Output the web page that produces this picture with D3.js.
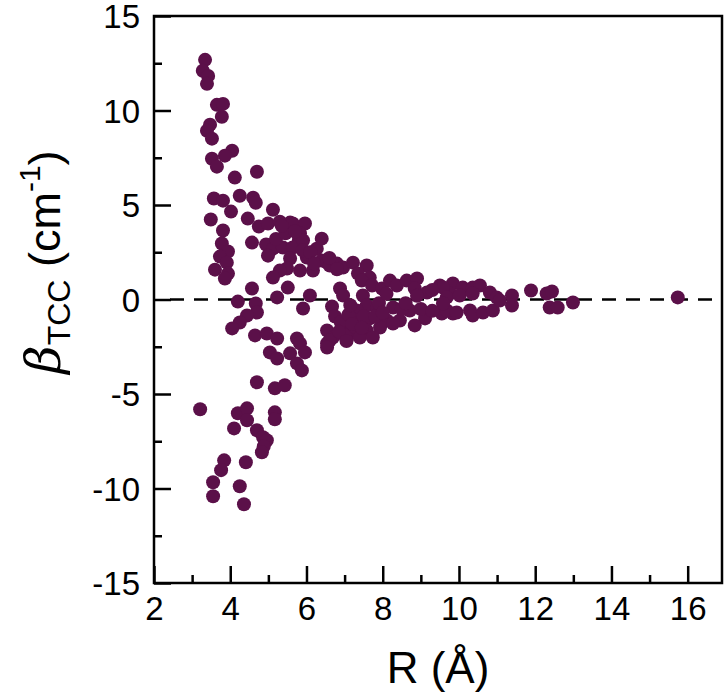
<!DOCTYPE html>
<html>
<head>
<meta charset="utf-8">
<script src="https://cdn.jsdelivr.net/npm/d3@7"></script>
<style>
  body { margin: 0; background: #fff; }
  text { font-family: "Liberation Sans", Arial, sans-serif; }
</style>
</head>
<body>
<svg id="chart"></svg>
<script>
// R (Å) values and beta_TCC (cm^-1) values
var rValues = [
  3.34, 3.28, 3.42, 3.39, 3.65, 3.81, 3.78, 3.47, 3.39, 3.52, 4.05, 3.86, 3.52, 3.65, 4.12, 4.70,
  3.57, 3.81, 4.02, 4.25, 4.60, 4.67, 5.12, 3.49, 3.81, 4.46, 4.75, 4.99, 5.30, 5.57, 5.64, 5.96,
  5.83, 5.80,
  3.78, 3.94, 3.73, 3.91, 3.60, 3.94, 3.86, 4.57, 4.94, 5.12, 4.99, 5.38, 5.64, 5.57, 5.49, 5.30,
  5.12, 5.83, 6.17, 5.91, 6.27, 6.40, 6.01, 6.40, 6.54, 6.61, 6.80, 6.96, 7.22, 7.58,
  7.35, 7.66, 7.45, 7.72, 7.98, 8.19, 8.37, 8.63, 8.90, 8.84, 9.16, 9.50, 9.84, 9.76, 6.88, 6.96,
  7.48, 4.57, 5.51, 6.09, 4.20, 4.67, 5.23, 5.91, 6.67, 7.58, 7.32, 7.85, 8.27, 8.71, 9.11, 9.55,
  9.84, 7.32, 7.66, 8.11, 8.45, 8.84, 6.54, 6.96, 7.27, 7.58, 7.93, 8.27, 6.69, 7.06, 7.40, 7.74,
  6.54, 6.61, 6.54,
  4.70, 4.44, 4.25, 4.05, 4.65, 4.96, 5.23, 5.04, 5.23, 5.57, 5.75, 5.83, 5.96, 5.75, 5.88, 4.70,
  5.17, 5.43,
  3.21, 4.20, 4.44, 4.44, 5.17, 5.17, 4.10, 4.70, 4.86, 4.96, 4.88, 4.83, 4.41, 3.84, 3.76, 3.55,
  3.55, 4.25, 4.36,
  9.58, 10.10, 10.36, 10.55, 9.68, 10.02, 10.36, 10.81, 10.99, 11.39, 11.89, 12.30, 12.44, 12.38,
  12.59, 12.99, 9.68, 9.94, 10.29, 10.36, 10.63, 10.89, 11.39, 11.07, 9.58, 15.74,
  // denser parts of the two arms
  6.75, 6.90, 7.10, 7.20, 7.00, 7.50, 7.80, 7.90, 8.00, 8.50, 8.60, 7.15, 6.85, 7.45, 8.10, 8.90,
  9.30, 9.00, 9.30, 5.20, 5.45, 5.70, 5.90, 6.10, 6.60, 6.20, 5.35, 6.80, 7.05
];
var betaValues = [
  12.68, 12.10, 11.83, 11.41, 10.30, 10.35, 9.67, 9.25, 8.93, 8.51, 7.87, 7.61, 7.45, 7.03, 6.45, 6.76,
  5.34, 5.23, 4.65, 5.49, 5.39, 5.12, 4.75, 4.23, 3.65, 4.28, 3.86, 4.02, 4.12, 4.07, 4.02, 4.02,
  3.49, 3.12,
  2.96, 2.54, 2.27, 1.95, 1.58, 1.37, 1.11, 3.01, 2.91, 2.69, 2.32, 2.75, 2.75, 2.17, 1.64, 1.53,
  1.16, 1.53, 1.53, 3.12, 2.69, 3.22, 2.22, 2.06, 1.95, 1.80, 1.90, 1.69, 1.95, 1.80,
  1.37, 1.16, 1.00, 0.74, 0.58, 1.00, 0.74, 1.00, 1.11, 0.58, 0.37, 0.74, 0.85, 0.32, 0.58, 0.21,
  0.21, 0.58, 0.63, 0.21, -0.11, -0.21, 0.11, -0.48, -0.37, -0.32, -0.58, -0.48, -0.42, -0.58, -1.00, -0.74,
  -0.74, -1.11, -1.00, -1.11, -1.11, -1.37, -1.64, -1.53, -1.64, -1.64, -1.48, -1.27, -2.01, -2.06, -2.01, -2.01,
  -2.32, -2.17, -2.54,
  -0.69, -0.85, -1.22, -1.53, -1.90, -1.80, -2.06, -2.80, -3.12, -2.85, -2.06, -2.32, -2.80, -3.38, -3.75, -4.38,
  -4.70, -4.54,
  -5.81, -6.02, -5.76, -6.39, -5.97, -6.34, -6.82, -6.92, -7.29, -7.45, -7.77, -8.08, -8.61, -8.51, -9.03, -9.67,
  -10.41, -9.88, -10.83,
  0.63, 0.63, 0.63, 0.74, 0.11, 0.21, 0.32, 0.37, 0.11, 0.21, 0.48, 0.32, 0.42, -0.42,
  -0.42, -0.16, -0.58, -0.69, -0.58, -0.85, -0.69, -0.58, -0.32, -0.05, -0.21, 0.11,
  -0.90, -1.20, -0.80, -1.30, -1.90, -0.90, -0.90, -0.20, -0.70, -0.50, -0.20, -0.30, -1.70, -1.50, 0.30, 0.20,
  0.50, -0.50, -0.60, 3.20, 3.50, 3.60, 2.60, 2.50, 2.20, 1.90, 3.90, 1.60, -2.20
];
var xTicks = [2, 4, 6, 8, 10, 12, 14, 16];
var yTicks = [-15, -10, -5, 0, 5, 10, 15];

var data = rValues.map(function (r, i) { return { x: r, y: betaValues[i] }; });

var W = 727, H = 698;
var margin = { top: 16, right: 5, bottom: 115, left: 154 };

var svg = d3.select("#chart").attr("width", W).attr("height", H);

var x_scale = d3.scaleLinear().domain([2, 16.9]).range([margin.left, W - margin.right]);
var y_scale = d3.scaleLinear().domain([-15, 15]).range([H - margin.bottom, margin.top]);

var x0 = x_scale.range()[0], x1 = x_scale.range()[1];
var y0 = y_scale.range()[0], y1 = y_scale.range()[1];

// zero line
svg.append("line")
  .attr("x1", x_scale(2) + 16).attr("x2", x1)
  .attr("y1", y_scale(0)).attr("y2", y_scale(0))
  .attr("stroke", "#000").attr("stroke-width", 2.5)
  .attr("stroke-dasharray", "14,10");

// points
svg.append("g")
  .selectAll("circle")
  .data(data)
  .join("circle")
  .attr("cx", function (d) { return x_scale(d.x); })
  .attr("cy", function (d) { return y_scale(d.y); })
  .attr("r", 7)
  .style("fill", "#5b1049");

// frame
svg.append("rect")
  .attr("x", x0).attr("y", y1)
  .attr("width", x1 - x0).attr("height", y0 - y1)
  .attr("fill", "none").attr("stroke", "#000").attr("stroke-width", 2.5);

// plain hyphen for negatives, like the original
var fmt = function (d) { return String(d); };

// x axis: inward ticks, major + minor
var xAxis = d3.axisBottom(x_scale).tickValues(xTicks).tickSize(-17).tickPadding(14).tickFormat(fmt);
var xMinor = d3.axisBottom(x_scale).tickValues(d3.range(3, 17, 2)).tickSize(-8).tickFormat("");

var gx = svg.append("g").attr("transform", `translate(0, ${y0})`).call(xAxis);
svg.append("g").attr("transform", `translate(0, ${y0})`).call(xMinor);

// y axis
var yAxis = d3.axisLeft(y_scale).tickValues(yTicks).tickSize(-17).tickPadding(14).tickFormat(fmt);
var yMinor = d3.axisLeft(y_scale).tickValues([-12.5, -7.5, -2.5, 2.5, 7.5, 12.5]).tickSize(-8).tickFormat("");

var gy = svg.append("g").attr("transform", `translate(${x0}, 0)`).call(yAxis);
svg.append("g").attr("transform", `translate(${x0}, 0)`).call(yMinor);

svg.selectAll(".domain").remove();
svg.selectAll(".tick line").attr("stroke", "#000").attr("stroke-width", 2.5);
svg.selectAll(".tick text").attr("fill", "#000").style("font-size", "33px");
gx.selectAll(".tick text").attr("dy", "0.71em");
gy.selectAll(".tick text").attr("dy", "0.36em");

// axis titles
svg.append("text")
  .attr("x", (x0 + x1) / 2).attr("y", 683)
  .attr("text-anchor", "middle")
  .style("font-size", "44px")
  .text("R (Å)");

var yt = svg.append("text")
  .attr("transform", "translate(60, 262) rotate(-90)")
  .attr("text-anchor", "middle")
  .style("font-size", "45px");
yt.append("tspan").style("font-style", "italic").style("font-family", "DejaVu Serif, serif")
  .style("font-size", "49px").text("β");
yt.append("tspan").attr("dy", 10).style("font-size", "32px").text("TCC");
yt.append("tspan").attr("dy", -10).text(" (cm");
yt.append("tspan").attr("dy", -20).style("font-size", "30px").text("-1");
yt.append("tspan").attr("dy", 20).text(")");
</script>
</body>
</html>
